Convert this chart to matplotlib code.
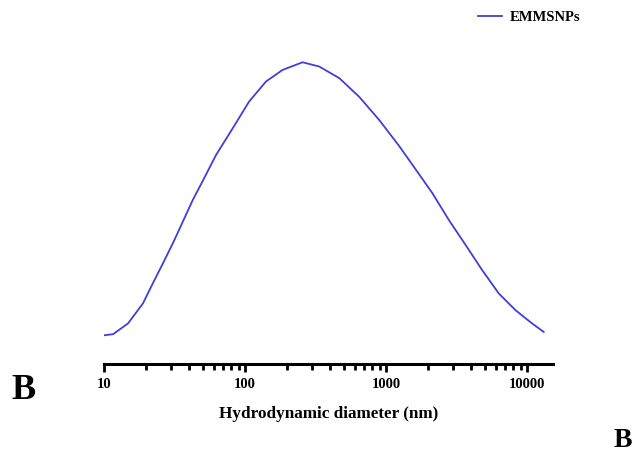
import numpy as np
import matplotlib.pyplot as plt
from matplotlib.ticker import LogLocator, FixedLocator, NullFormatter

# size distribution
diameter_nm = [10.0, 11.6, 14.8, 18.9, 22.2, 26.2, 30.8, 36.2, 42.6, 48.9,
               62.4, 81.8, 107, 141, 185, 256, 336, 466, 645, 894,
               1238, 1581, 2130, 2796, 3671, 4811, 6316, 8293, 10870, 13150]
intensity = [3.5, 3.9, 7.7, 14.8, 21.9, 29.0, 36.1, 43.7, 51.4, 57.1,
             67.4, 76.8, 86.3, 93.4, 97.5, 100.2, 98.7, 94.6, 88.0, 79.8,
             70.6, 63.1, 53.9, 44.3, 35.5, 26.6, 18.3, 12.4, 7.7, 4.7]
major_ticks = [10, 100, 1000, 10000]
tick_labels = ["10", "100", "1000", "10000"]

serif = ["Liberation Serif", "DejaVu Serif"]

fig = plt.figure(figsize=(6.36, 4.54), dpi=100)
ax = fig.add_axes([0.1635, 0.198, 0.706, 0.681])

ax.plot(diameter_nm, intensity, color="#3f3fd8", lw=1.3, label="EMMSNPs")
ax.set_xscale("log")
ax.set_xlim(10, 15300)
ax.set_ylim(-6.7, 102.8)

for side in ["top", "right", "left"]:
    ax.spines[side].set_visible(False)
ax.spines["bottom"].set_linewidth(2.2)
ax.set_yticks([])

ax.xaxis.set_major_locator(FixedLocator(major_ticks))
ax.set_xticklabels(tick_labels, fontfamily=serif, fontweight="bold", fontsize=10.5)
ax.xaxis.set_minor_locator(LogLocator(base=10, subs=np.arange(2, 10)))
ax.xaxis.set_minor_formatter(NullFormatter())
ax.tick_params(axis="x", which="major", length=6, width=2, pad=4)
ax.tick_params(axis="x", which="minor", length=4, width=2)

ax.set_xlabel("Hydrodynamic diameter (nm)", fontfamily=serif, fontweight="bold",
              fontsize=12.3, labelpad=10.5)

leg = ax.legend(loc="upper right", bbox_to_anchor=(1.090, 1.186), frameon=False,
                handlelength=1.7, handletextpad=0.5,
                prop={"family": serif, "weight": "bold", "size": 10.5})

fig.text(0.018, 0.122, "B", fontfamily=serif, fontweight="bold", fontsize=26)
fig.text(0.965, 0.016, "B", fontfamily=serif, fontweight="bold", fontsize=20)

fig.savefig("out.png", dpi=100)
